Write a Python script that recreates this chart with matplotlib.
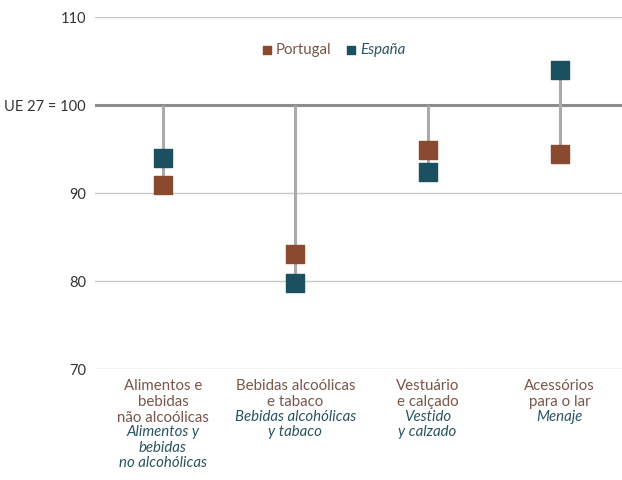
import numpy as np
import matplotlib.pyplot as plt

plt.rcParams['font.family'] = ['Lato', 'DejaVu Sans']

# data
cats_pt = ['Alimentos e\nbebidas\nnão alcoólicas', 'Bebidas alcoólicas\ne tabaco',
           'Vestuário\ne calçado', 'Acessórios\npara o lar']
cats_es = ['Alimentos y\nbebidas\nno alcohólicas', 'Bebidas alcohólicas\ny tabaco',
           'Vestido\ny calzado', 'Menaje']
portugal = [90.9, 83.1, 94.9, 94.4]
espana = [94.0, 79.8, 92.4, 104.0]
yticks = [70, 80, 90, 100, 110]
ytick_labels = ['70', '80', '90', 'UE 27 = 100', '110']

c_pt = '#8a4a30'
c_es = '#1b5060'
c_pt_txt = '#7a5548'
c_es_txt = '#2a5560'

fig = plt.figure(figsize=(6.22, 4.81), dpi=100)
ax = fig.add_axes([0.1527, 0.2308, 0.8473, 0.7318])

x = np.arange(len(portugal))

# grid lines
for v in yticks:
    if v == 100:
        ax.axhline(v, color='#8c8c8c', lw=2.2, zorder=1)
    else:
        ax.axhline(v, color='#c8c8c8', lw=1.0, zorder=1)

# stems from 100 to the extreme values
for i in range(len(x)):
    lo = min(portugal[i], espana[i], 100)
    hi = max(portugal[i], espana[i], 100)
    ax.vlines(x[i], lo, hi, color='#aaaaaa', lw=2.2, zorder=2)

ax.scatter(x, portugal, marker='s', s=180, color=c_pt, zorder=3, label='Portugal')
ax.scatter(x, espana, marker='s', s=180, color=c_es, zorder=3, label='España')

ax.set_xlim(-0.514, 3.47)
ax.set_ylim(70, 110)
ax.set_yticks(yticks)
ax.set_yticklabels(ytick_labels, fontsize=10.5, color='#333333')
ax.tick_params(axis='y', length=0, pad=6.5)
ax.set_xticks([])
for s in ax.spines.values():
    s.set_visible(False)

# category labels: portuguese then spanish (italic)
line_h = 15.3
for i in range(len(x)):
    n_pt = cats_pt[i].count('\n') + 1
    ax.annotate(cats_pt[i], xy=(x[i], 0), xycoords=('data', 'axes fraction'),
                xytext=(0, -9), textcoords='offset pixels', ha='center', va='top',
                fontsize=10.8, color=c_pt_txt, linespacing=1.16)
    ax.annotate(cats_es[i], xy=(x[i], 0), xycoords=('data', 'axes fraction'),
                xytext=(0, -9 - n_pt * line_h), textcoords='offset pixels', ha='center', va='top',
                fontsize=10.8, color=c_es_txt, style='italic', linespacing=1.16)

leg = ax.legend(loc='upper center', bbox_to_anchor=(0.45, 0.966), ncol=2, frameon=False,
                handletextpad=0.1, columnspacing=0.8, markerscale=0.45, fontsize=10.8,
                handlelength=1.0)
leg.get_texts()[0].set_color(c_pt_txt)
leg.get_texts()[1].set_color(c_es_txt)
leg.get_texts()[1].set_style('italic')

fig.savefig('out.png', dpi=100)
